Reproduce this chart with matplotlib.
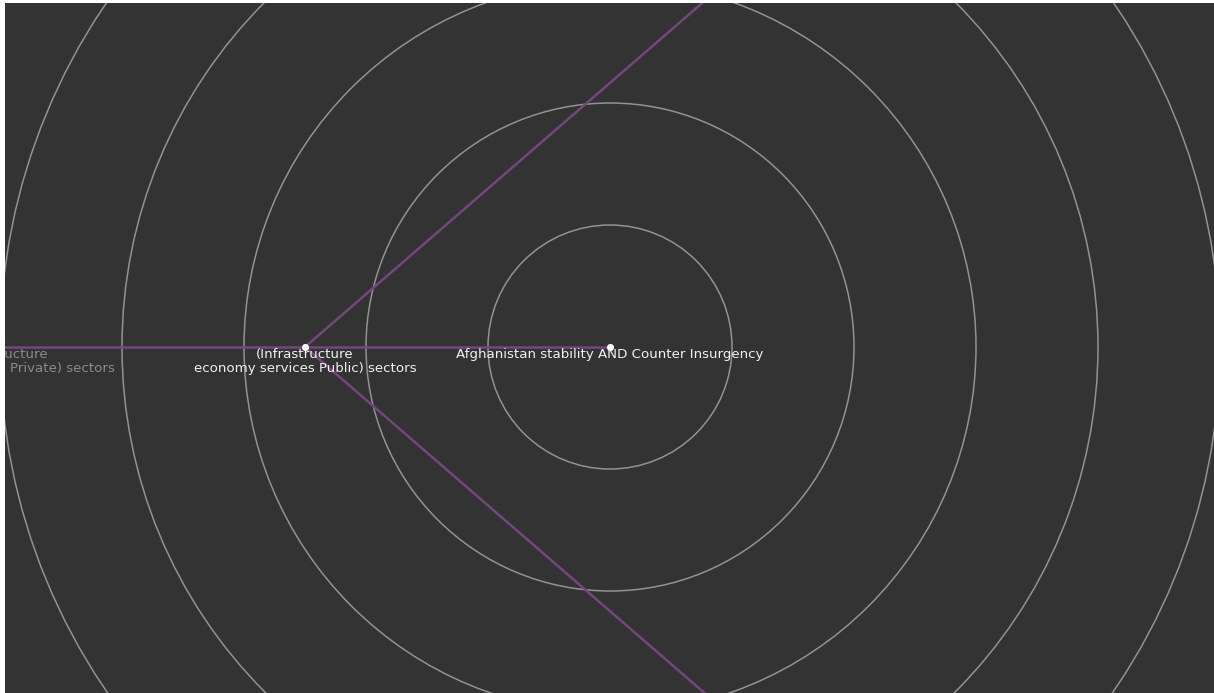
import numpy as np
import matplotlib
matplotlib.use("Agg")
import matplotlib.pyplot as plt
from matplotlib.patches import Circle

# ---- data: radial tree (root at centre) ----
node_names = [
    "Afghanistan stability AND Counter Insurgency",
    "(Infrastructure\neconomy services Public) sectors",
    "(Infrastructure\neconomy services Private) sectors",
    "",
    "",
]
node_radius = [0, 305, 610, 610, 610]          # distance from root (px)
node_angle_deg = [0, 180, 180, 60, -60]        # angle, counter-clockwise from +x
node_visible = [True, True, False, False, False]
label_dim = [False, False, True, False, False]
edges = [(0, 1), (1, 2), (1, 3), (1, 4)]
ring_radii = [122, 244, 366, 488, 610, 732]

W, H = 1214, 693
cx, cy = 610, 347

fig = plt.figure(figsize=(W / 100, H / 100), dpi=100, facecolor="white")
ax = fig.add_axes([5 / W, 0, (W - 5) / W, (H - 3) / H])
ax.set_facecolor("#333333")
ax.set_xlim(5, W)
ax.set_ylim(H, 3)
ax.set_xticks([])
ax.set_yticks([])
for s in ax.spines.values():
    s.set_visible(False)

# rings
for r in ring_radii:
    ax.add_patch(Circle((cx, cy), r, fill=False, edgecolor="#929292", lw=1.1, zorder=1))

# node positions
xs = [cx + r * np.cos(np.radians(a)) for r, a in zip(node_radius, node_angle_deg)]
ys = [cy - r * np.sin(np.radians(a)) for r, a in zip(node_radius, node_angle_deg)]

for a, b in edges:
    ax.plot([xs[a], xs[b]], [ys[a], ys[b]], color="#75457f", lw=1.8,
            solid_capstyle="butt", zorder=2)

for i, name in enumerate(node_names):
    if node_visible[i]:
        ax.scatter([xs[i]], [ys[i]], s=26, color="white", zorder=4, linewidths=0)
    if name:
        t = ax.text(xs[i], ys[i] + 1, name, ha="center", va="top",
                    color="#8a8a8a" if label_dim[i] else "#f0f0f0",
                    fontsize=9.6, family="DejaVu Sans", linespacing=1.1, zorder=5)
        t.set_clip_on(True)

fig.savefig("out.png", dpi=100, facecolor=fig.get_facecolor())
